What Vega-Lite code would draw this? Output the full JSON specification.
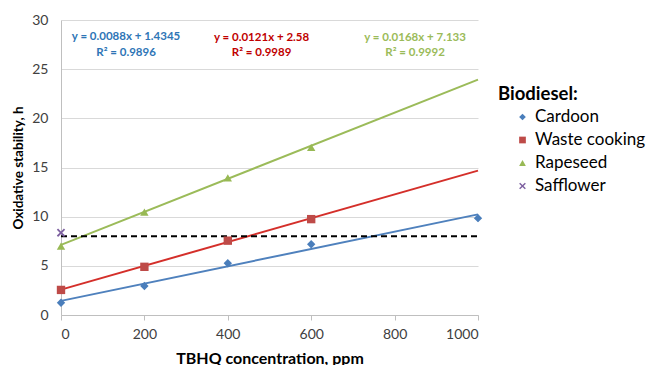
{
  "$schema": "https://vega.github.io/schema/vega-lite/v6.json",
  "width": 417,
  "height": 295,
  "autosize": {"type": "none"},
  "padding": {"left": 61, "top": 20, "right": 168, "bottom": 50},
  "background": "white",
  "config": {"font": "Lato", "view": {"stroke": null}},
  "datasets": {
    "points": [
      {"series": "Cardoon", "conc": 0, "value": 1.25},
      {"series": "Cardoon", "conc": 200, "value": 2.95},
      {"series": "Cardoon", "conc": 400, "value": 5.26},
      {"series": "Cardoon", "conc": 600, "value": 7.19},
      {"series": "Cardoon", "conc": 1000, "value": 9.85},
      {"series": "Waste cooking", "conc": 0, "value": 2.55},
      {"series": "Waste cooking", "conc": 200, "value": 4.9},
      {"series": "Waste cooking", "conc": 400, "value": 7.56},
      {"series": "Waste cooking", "conc": 600, "value": 9.75},
      {"series": "Rapeseed", "conc": 0, "value": 7.0},
      {"series": "Rapeseed", "conc": 200, "value": 10.47},
      {"series": "Rapeseed", "conc": 400, "value": 13.95},
      {"series": "Rapeseed", "conc": 600, "value": 17.05},
      {"series": "Safflower", "conc": 0, "value": 8.37}
    ],
    "errors": [
      {"series": "Cardoon", "conc": 0, "lo": 1.0, "hi": 1.5},
      {"series": "Cardoon", "conc": 200, "lo": 2.75, "hi": 3.15},
      {"series": "Cardoon", "conc": 400, "lo": 5.0, "hi": 5.5},
      {"series": "Cardoon", "conc": 600, "lo": 6.9, "hi": 7.5},
      {"series": "Cardoon", "conc": 1000, "lo": 9.5, "hi": 10.2},
      {"series": "Waste cooking", "conc": 600, "lo": 9.5, "hi": 10.0}
    ],
    "trends": [
      {"series": "Cardoon", "conc": 0, "value": 1.4345},
      {"series": "Cardoon", "conc": 1000, "value": 10.2345},
      {"series": "Waste cooking", "conc": 0, "value": 2.58},
      {"series": "Waste cooking", "conc": 1000, "value": 14.68},
      {"series": "Rapeseed", "conc": 0, "value": 7.133},
      {"series": "Rapeseed", "conc": 1000, "value": 23.933}
    ],
    "limit": [
      {"conc": 0, "value": 8},
      {"conc": 1000, "value": 8}
    ],
    "equations": [
      {"series": "Cardoon", "conc": 156, "value": 28.27, "label": "y = 0.0088x + 1.4345"},
      {"series": "Cardoon", "conc": 156, "value": 26.64, "label": "R² = 0.9896"},
      {"series": "Waste cooking", "conc": 481, "value": 28.22, "label": "y = 0.0121x + 2.58"},
      {"series": "Waste cooking", "conc": 481, "value": 26.6, "label": "R² = 0.9989"},
      {"series": "Rapeseed", "conc": 849, "value": 28.22, "label": "y = 0.0168x + 7.133"},
      {"series": "Rapeseed", "conc": 849, "value": 26.6, "label": "R² = 0.9992"}
    ]
  },
  "encoding": {
    "x": {
      "field": "conc",
      "type": "quantitative",
      "scale": {"domain": [0, 1000], "nice": false},
      "axis": {
        "title": "TBHQ concentration, ppm",
        "values": [0, 200, 400, 600, 800, 1000],
        "format": "d",
        "grid": false,
        "domainColor": "#BFBFBF",
        "tickColor": "#BFBFBF",
        "tickSize": 5,
        "labelPadding": 7,
        "labelFontSize": 14,
        "labelColor": "#404040",
        "titleFontSize": 16,
        "titleFontWeight": "bold",
        "titleColor": "#000000",
        "titlePadding": 9
      }
    },
    "y": {
      "field": "value",
      "type": "quantitative",
      "scale": {"domain": [0, 30], "nice": false},
      "axis": {
        "title": "Oxidative stability, h",
        "values": [0, 5, 10, 15, 20, 25, 30],
        "grid": true,
        "gridColor": "#D9D9D9",
        "domainColor": "#BFBFBF",
        "ticks": false,
        "labelPadding": 13,
        "labelFontSize": 14,
        "labelColor": "#404040",
        "titleFontSize": 13.5,
        "titleFontWeight": "bold",
        "titleColor": "#000000",
        "titlePadding": 6
      }
    }
  },
  "layer": [
    {
      "data": {"name": "trends"},
      "mark": {"type": "line", "strokeWidth": 2},
      "encoding": {
        "stroke": {
          "field": "series",
          "type": "nominal",
          "scale": {"domain": ["Cardoon", "Waste cooking", "Rapeseed"], "range": ["#4F81BD", "#D42F2A", "#9BBB59"]},
          "legend": null
        }
      }
    },
    {
      "data": {"name": "limit"},
      "mark": {"type": "line", "color": "#000000", "strokeWidth": 2, "strokeDash": [6, 4]},
      "encoding": {}
    },
    {
      "data": {"name": "errors"},
      "mark": {"type": "rule", "strokeWidth": 1},
      "encoding": {
        "y": {"field": "lo", "type": "quantitative"},
        "y2": {"field": "hi"},
        "stroke": {
          "field": "series",
          "type": "nominal",
          "legend": null
        }
      }
    },
    {
      "data": {"name": "points"},
      "mark": {"type": "point", "filled": true, "opacity": 1, "size": 70},
      "encoding": {
        "color": {
          "field": "series",
          "type": "nominal",
          "title": "Biodiesel:",
          "scale": {"domain": ["Cardoon", "Waste cooking", "Rapeseed", "Safflower"], "range": ["#4A7EBB", "#BE4B48", "#98B954", "#7D60A0"]},
          "legend": {
            "orient": "none",
            "legendX": 437,
            "legendY": 65,
            "titleFontSize": 18.5,
            "titleFontWeight": "bold",
            "titleColor": "#000000",
            "titlePadding": 5,
            "labelFontSize": 17,
            "labelLimit": 300,
            "labelColor": "#000000",
            "symbolSize": 45,
            "symbolOffset": 16,
            "rowPadding": 5,
            "labelOffset": 4
          }
        },
        "shape": {
          "field": "series",
          "type": "nominal",
          "title": "Biodiesel:",
          "scale": {
            "domain": ["Cardoon", "Waste cooking", "Rapeseed", "Safflower"],
            "range": ["diamond", "square", "triangle-up", "M-0.7,-1L0,-0.3L0.7,-1L1,-0.7L0.3,0L1,0.7L0.7,1L0,0.3L-0.7,1L-1,0.7L-0.3,0L-1,-0.7Z"]
          },
          "legend": {
            "orient": "none",
            "legendX": 437,
            "legendY": 65,
            "titleFontSize": 18.5,
            "titleFontWeight": "bold",
            "titleColor": "#000000",
            "titlePadding": 5,
            "labelFontSize": 17,
            "labelLimit": 300,
            "labelColor": "#000000",
            "symbolSize": 45,
            "symbolOffset": 16,
            "rowPadding": 5,
            "labelOffset": 4
          }
        }
      }
    },
    {
      "data": {"name": "equations"},
      "mark": {"type": "text", "fontSize": 11.5, "fontWeight": "bold", "align": "center", "baseline": "middle"},
      "encoding": {
        "text": {"field": "label"},
        "fill": {
          "field": "series",
          "type": "nominal",
          "scale": {"domain": ["Cardoon", "Waste cooking", "Rapeseed"], "range": ["#2E75B6", "#C00000", "#9BBB59"]},
          "legend": null
        }
      }
    }
  ]
}
